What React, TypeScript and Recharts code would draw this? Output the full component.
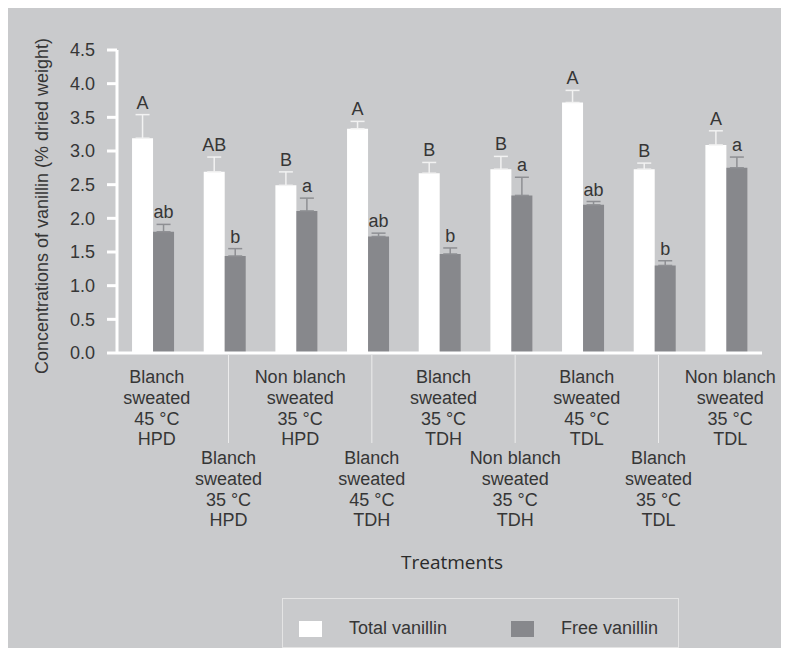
import React from "react";
import { BarChart, Bar, XAxis, YAxis, ErrorBar, LabelList, Legend } from "recharts";

// treatment names, one line per entry
const categoryLines = [
  ["Blanch", "sweated", "45 °C", "HPD"],
  ["Blanch", "sweated", "35 °C", "HPD"],
  ["Non blanch", "sweated", "35 °C", "HPD"],
  ["Blanch", "sweated", "45 °C", "TDH"],
  ["Blanch", "sweated", "35 °C", "TDH"],
  ["Non blanch", "sweated", "35 °C", "TDH"],
  ["Blanch", "sweated", "45 °C", "TDL"],
  ["Blanch", "sweated", "35 °C", "TDL"],
  ["Non blanch", "sweated", "35 °C", "TDL"],
];

const seriesNames = ["Total vanillin", "Free vanillin"];

const totalVanillin = [3.19, 2.69, 2.49, 3.33, 2.67, 2.73, 3.72, 2.73, 3.09];
const totalError = [0.35, 0.22, 0.2, 0.11, 0.16, 0.19, 0.18, 0.09, 0.21];
const totalLetters = ["A", "AB", "B", "A", "B", "B", "A", "B", "A"];

const freeVanillin = [1.8, 1.44, 2.11, 1.73, 1.47, 2.34, 2.2, 1.3, 2.75];
const freeError = [0.11, 0.11, 0.19, 0.05, 0.09, 0.27, 0.05, 0.07, 0.16];
const freeLetters = ["ab", "b", "a", "ab", "b", "a", "ab", "b", "a"];

const yTicks = [0, 0.5, 1, 1.5, 2, 2.5, 3, 3.5, 4, 4.5];

const data = categoryLines.map((lines, i) => ({
  name: lines.join(" "),
  total: totalVanillin[i],
  totalErr: [0, totalError[i]],
  free: freeVanillin[i],
  freeErr: [0, freeError[i]],
}));

const FONT = "'Liberation Sans', Arial, sans-serif";
const BG = "#c9cacc";
const GREY_BAR = "#87888c";
const TEXT = "#363636";

const letterLabel = (letters: string[], values: number[], errors: number[]) => (props: any) => {
  const x = Number(props.x);
  const y = Number(props.y);
  const w = Number(props.width);
  const h = Number(props.height);
  const i = props.index;
  const pxPerUnit = h / values[i];
  const top = y - errors[i] * pxPerUnit;
  return (
    <text x={x + w / 2} y={top - 6} textAnchor="middle" fontFamily={FONT} fontSize={18} fill={TEXT}>
      {letters[i]}
    </text>
  );
};

const CategoryTick = (props: any) => {
  const { x, y, payload } = props;
  const i = payload.index ?? props.index;
  const lines = categoryLines[i] || [];
  const lower = i % 2 === 1;
  const cx = Number(x) + 4;
  const startY = Number(y) + (lower ? 111 : 30);
  return (
    <g>
      {lower && <line x1={cx} x2={cx} y1={Number(y) + 2} y2={Number(y) + 90} stroke="#ececec" strokeWidth={1} />}
      <text textAnchor="middle" fontFamily={FONT} fontSize={18} fill={TEXT}>
        {lines.map((t, k) => (
          <tspan key={k} x={cx} y={startY + k * 20.8}>
            {t}
          </tspan>
        ))}
      </text>
    </g>
  );
};

const YTitle = () => (
  <text
    x={34}
    y={198}
    transform="rotate(-90, 34, 198)"
    textAnchor="middle"
    dominantBaseline="central"
    fontFamily={FONT}
    fontSize={18}
    fill={TEXT}
  >
    Concentrations of vanillin (% dried weight)
  </text>
);

const XTitle = () => (
  <text x={444} y={561} textAnchor="middle" fontFamily="'Open Sans', sans-serif" fontSize={19} fill="#2a2a2a">
    Treatments
  </text>
);

const renderLegend = (props: any) => {
  const payload = [...(props.payload || [])].sort(
    (a: any, b: any) => seriesNames.indexOf(a.value) - seriesNames.indexOf(b.value)
  );
  return (
    <div
      style={{
        position: "relative",
        width: 397,
        height: 50,
        border: "1.5px solid #e4e4e4",
        boxSizing: "border-box",
        fontFamily: FONT,
        fontSize: 18,
        color: TEXT,
      }}
    >
      {payload.map((entry: any, i: number) => (
        <React.Fragment key={entry.value}>
          <div
            style={{
              position: "absolute",
              left: 16 + i * 212,
              top: 22,
              width: 23,
              height: 16,
              background: entry.color,
            }}
          />
          <div style={{ position: "absolute", left: 66 + i * 212, top: 19, lineHeight: "20px" }}>{entry.value}</div>
        </React.Fragment>
      ))}
    </div>
  );
};

export default function App() {
  return (
    <div style={{ width: 781, height: 648, background: BG, marginBottom: -8 }}>
      <BarChart
        width={781}
        height={648}
        data={data}
        margin={{ top: 42, right: 27, bottom: 0, left: 0 }}
        barCategoryGap="21%"
        barGap={0}
      >
        <XAxis
          dataKey="name"
          height={303}
          axisLine={{ stroke: "#ffffff", strokeWidth: 3 }}
          tickLine={false}
          tickSize={0}
          tickMargin={0}
          interval={0}
          tick={<CategoryTick />}
          label={<XTitle />}
        />
        <YAxis
          width={109}
          domain={[0, 4.5]}
          ticks={yTicks}
          interval={0}
          tickFormatter={(v: number) => v.toFixed(1)}
          axisLine={{ stroke: "#ffffff", strokeWidth: 3 }}
          tickLine={{ stroke: "#ffffff", strokeWidth: 3 }}
          tickSize={10}
          tickMargin={12}
          tick={{ fontFamily: FONT, fontSize: 18, fill: TEXT }}
          label={<YTitle />}
        />
        <Legend
          layout="horizontal"
          verticalAlign="middle"
          content={renderLegend}
          wrapperStyle={{ left: 274, top: 590, width: 397, height: 50 }}
        />
        <Bar dataKey="total" name={seriesNames[0]} fill="#ffffff" isAnimationActive={false}>
          <ErrorBar dataKey="totalErr" width={7} strokeWidth={1.5} stroke="#f2f2f2" direction="y" isAnimationActive={false} />
          <LabelList dataKey="total" content={letterLabel(totalLetters, totalVanillin, totalError)} />
        </Bar>
        <Bar dataKey="free" name={seriesNames[1]} fill={GREY_BAR} isAnimationActive={false}>
          <ErrorBar dataKey="freeErr" width={7} strokeWidth={1.5} stroke="#8e8f93" direction="y" isAnimationActive={false} />
          <LabelList dataKey="free" content={letterLabel(freeLetters, freeVanillin, freeError)} />
        </Bar>
      </BarChart>
    </div>
  );
}
